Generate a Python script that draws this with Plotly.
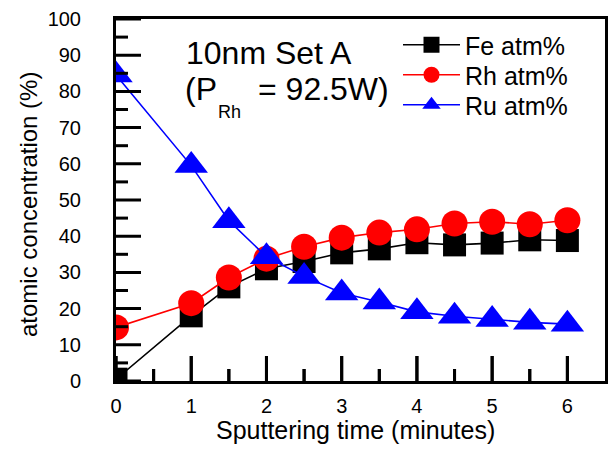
import plotly.graph_objects as go

# ---- data ----
time_min = [0, 1, 1.5, 2, 2.5, 3, 3.5, 4, 4.5, 5, 5.5, 6]
fe_atm = [0.5, 18, 26, 31, 33, 35.4, 36.5, 38.2, 37.6, 38.1, 39, 38.8]
rh_atm = [14.8, 21.5, 28.6, 33.8, 37.1, 39.6, 41, 41.9, 43.5, 44, 43.3, 44.4]
ru_atm = [84.5, 59.5, 44.3, 34.3, 28.9, 24.3, 21.8, 19.1, 17.9, 17, 16.2, 15.7]
series_names = ["Fe atm%", "Rh atm%", "Ru atm%"]
x_range = [0, 6.5]
y_range = [0, 100]
x_major_ticks = [0, 1, 2, 3, 4, 5, 6]
x_minor_ticks = [0.5, 1.5, 2.5, 3.5, 4.5, 5.5]
y_major_ticks = [0, 10, 20, 30, 40, 50, 60, 70, 80, 90, 100]
y_minor_ticks = [5, 15, 25, 35, 45, 55, 65, 75, 85, 95]
x_title = "Sputtering time (minutes)"
y_title = "atomic concentration (%)"

# ---- layout constants ----
W, H = 610, 451
L, R, T, B = 116, 5, 19, 70
FONT = "Arial, 'Liberation Sans', sans-serif"
MAJOR_LEN, MINOR_LEN, TICK_W = 25, 12, 3
PLOT_W, PLOT_H = W - L - R, H - T - B


def px_x(px):
    return (px - L) / PLOT_W


def px_y(py):
    return (H - B - py) / PLOT_H


fig = go.Figure()

# inside x tick marks as thin bars standing on the bottom axis
x_per_px = (x_range[1] - x_range[0]) / PLOT_W
y_per_px = (y_range[1] - y_range[0]) / PLOT_H
for ticks, ln in ((x_major_ticks, MAJOR_LEN), (x_minor_ticks, MINOR_LEN)):
    fig.add_trace(go.Bar(
        x=ticks, y=[ln * y_per_px] * len(ticks), base=y_range[0],
        width=TICK_W * x_per_px, showlegend=False, hoverinfo="skip",
        marker=dict(color="black", line=dict(width=0)),
    ))

styles = [
    dict(color="#000000", symbol="square", size=23),
    dict(color="#ff0000", symbol="circle", size=26),
    dict(color="#0000ff", symbol="triangle-up", size=29),
]
legend_ids = ["legend", "legend2", "legend3"]
for name, vals, st, lg in zip(series_names, [fe_atm, rh_atm, ru_atm], styles, legend_ids):
    fig.add_trace(go.Scatter(
        x=time_min, y=vals, name=name, mode="lines+markers", legend=lg,
        line=dict(color=st["color"], width=1.6),
        marker=dict(color=st["color"], symbol=st["symbol"], size=st["size"],
                    line=dict(width=0)),
    ))

# inside tick marks: line markers on the axes, half clipped by the plot area
# (plotly's line symbols extend 1.4 * size / 2 from their centre)
tick_sets = [
    (x_major_ticks, [y_range[0]] * len(x_major_ticks), "line-ns", MAJOR_LEN),
    (x_minor_ticks, [y_range[0]] * len(x_minor_ticks), "line-ns", MINOR_LEN),
    ([x_range[0]] * len(y_major_ticks), y_major_ticks, "line-ew", MAJOR_LEN),
    ([x_range[0]] * len(y_minor_ticks), y_minor_ticks, "line-ew", MINOR_LEN),
]
for tx, ty, sym, ln in tick_sets:
    fig.add_trace(go.Scatter(
        x=tx, y=ty, mode="markers", showlegend=False, hoverinfo="skip",
        cliponaxis=True,
        marker=dict(symbol=sym, size=2 * ln / 1.4, color="black",
                    line=dict(color="black", width=TICK_W)),
    ))

tfont = dict(family=FONT, size=20, color="black")
fig.update_layout(
    barmode="overlay",
    xaxis=dict(
        range=x_range, tickvals=x_major_ticks,
        ticktext=[str(v) for v in x_major_ticks],
        showline=True, linewidth=3, linecolor="black", mirror=True,
        ticks="outside", ticklen=5, tickwidth=1, tickcolor="rgba(0,0,0,0)",
        showgrid=False, zeroline=False, automargin=False, tickfont=tfont,
    ),
    yaxis=dict(
        range=y_range, tickvals=y_major_ticks,
        ticktext=[str(v) for v in y_major_ticks],
        showline=True, linewidth=3, linecolor="black", mirror=True,
        ticks="outside", ticklen=28, tickwidth=1, tickcolor="rgba(0,0,0,0)",
        showgrid=False, zeroline=False, automargin=False, tickfont=tfont,
    ),
)

ann_font = dict(family=FONT, size=32, color="black")
annotations = [
    dict(text="10nm Set A", x=px_x(184), y=px_y(53), font=ann_font,
         xanchor="left"),
    dict(text="(P", x=px_x(183), y=px_y(89), font=ann_font, xanchor="left"),
    dict(text="Rh", x=px_x(216), y=px_y(112),
         font=dict(family=FONT, size=18, color="black"), xanchor="left"),
    dict(text="= 92.5W)", x=px_x(256), y=px_y(89), font=ann_font,
         xanchor="left"),
    dict(text=x_title, x=px_x(355), y=px_y(430), xanchor="center",
         font=dict(family=FONT, size=25, color="black")),
    dict(text=y_title, x=px_x(28), y=px_y(205), xanchor="center", textangle=-90,
         font=dict(family=FONT, size=24, color="black")),
]
for a in annotations:
    a.update(xref="paper", yref="paper", yanchor="middle", showarrow=False)

leg_common = dict(xanchor="left", yanchor="middle", bgcolor="rgba(0,0,0,0)",
                  borderwidth=0, font=dict(family=FONT, size=25, color="black"),
                  itemwidth=57)
fig.update_layout(
    width=W, height=H, autosize=False,
    margin=dict(l=L, r=R, t=T, b=B, pad=0),
    paper_bgcolor="white", plot_bgcolor="white",
    font=dict(family=FONT, color="black"),
    annotations=annotations,
    legend=dict(x=px_x(398), y=px_y(45), **leg_common),
    legend2=dict(x=px_x(398), y=px_y(75), **leg_common),
    legend3=dict(x=px_x(398), y=px_y(105), **leg_common),
    showlegend=True,
)

fig.write_html("out.html")
